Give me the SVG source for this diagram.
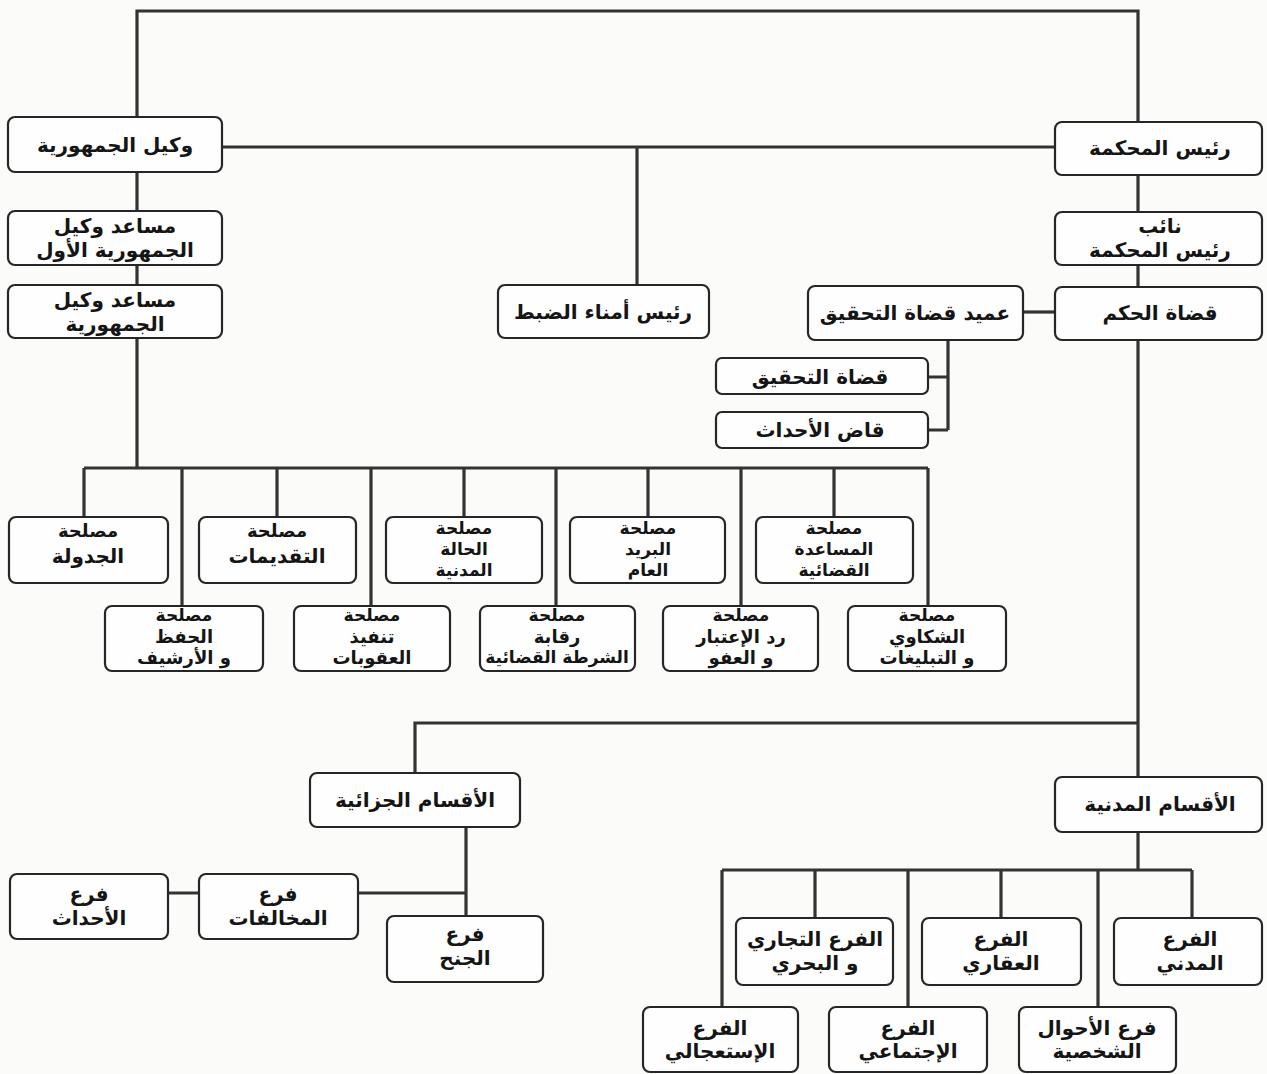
<svg xmlns="http://www.w3.org/2000/svg" width="1267" height="1074" viewBox="0 0 1267 1074">
<style>
.bg{fill:#fbfbfa}
.box{fill:#fefefe;stroke:#262626;stroke-width:2.2}
.c{fill:none;stroke:#333;stroke-width:3.2;stroke-linejoin:miter}
.t{font-family:"DejaVu Sans",sans-serif;font-weight:bold;font-size:20px;fill:#151515;text-anchor:middle;dominant-baseline:central}
.s{font-size:17px}
.m{font-size:18px}
</style>
<rect class="bg" x="0" y="0" width="1267" height="1074"/>
<g id="connectors">
<path class="c" d="M137 117 V11 H1138 V122"/>
<path class="c" d="M137 172 V211 M137 265 V285 M137 338 V468"/>
<path class="c" d="M222 147 H1055 M637 147 V285"/>
<path class="c" d="M1138 175 V212 M1138 265 V287 M1138 340 V777"/>
<path class="c" d="M1023 312 H1055"/>
<path class="c" d="M948 340 V430 M928 377 H948 M928 430 H948"/>
<path class="c" d="M84 468 H928 M84 468 V517 M277 468 V517 M464 468 V517 M648 468 V517 M834 468 V517 M182 468 V606 M371 468 V606 M556 468 V606 M741 468 V606 M928 468 V606"/>
<path class="c" d="M1138 723 H415 V773"/>
<path class="c" d="M466 827 V916 M358 893 H466 M168 893 H199"/>
<path class="c" d="M1138 832 V870 M722 870 H1192 M815 870 V918 M1001 870 V918 M1192 870 V918 M722 870 V1007 M908 870 V1007 M1098 870 V1007"/>
</g>
<g id="n-wakil"><rect class="box" x="8" y="117" width="214" height="55" rx="7"/><text class="t" x="115" y="145">وكيل الجمهورية</text></g>
<g id="n-mosaid1"><rect class="box" x="8" y="211" width="214" height="54" rx="7"/><text class="t" x="115" y="226">مساعد وكيل</text><text class="t" x="115" y="250">الجمهورية الأول</text></g>
<g id="n-mosaid2"><rect class="box" x="8" y="285" width="214" height="53" rx="7"/><text class="t" x="115" y="300">مساعد وكيل</text><text class="t" x="115" y="324">الجمهورية</text></g>
<g id="n-omana"><rect class="box" x="498" y="285" width="211" height="53" rx="7"/><text class="t" x="603" y="312">رئيس أمناء الضبط</text></g>
<g id="n-rais"><rect class="box" x="1055" y="122" width="207" height="53" rx="7"/><text class="t" x="1160" y="148">رئيس المحكمة</text></g>
<g id="n-naib"><rect class="box" x="1055" y="212" width="207" height="53" rx="7"/><text class="t" x="1160" y="226">نائب</text><text class="t" x="1160" y="250">رئيس المحكمة</text></g>
<g id="n-hukm"><rect class="box" x="1055" y="287" width="207" height="53" rx="7"/><text class="t" x="1160" y="313">قضاة الحكم</text></g>
<g id="n-amid"><rect class="box" x="808" y="286" width="215" height="54" rx="7"/><text class="t" x="915" y="313">عميد قضاة التحقيق</text></g>
<g id="n-tahqiq"><rect class="box" x="716" y="358" width="212" height="36" rx="6"/><text class="t" x="820" y="377">قضاة التحقيق</text></g>
<g id="n-ahdath-q"><rect class="box" x="716" y="412" width="212" height="36" rx="6"/><text class="t" x="820" y="430">قاض الأحداث</text></g>
<g id="n-jadwala"><rect class="box" x="9" y="517" width="159" height="66" rx="7"/><text class="t m" x="88" y="530">مصلحة</text><text class="t" x="88" y="556">الجدولة</text></g>
<g id="n-taqdimat"><rect class="box" x="199" y="517" width="157" height="66" rx="7"/><text class="t m" x="277" y="530">مصلحة</text><text class="t" x="277" y="556">التقديمات</text></g>
<g id="n-hala"><rect class="box" x="386" y="517" width="156" height="66" rx="7"/><text class="t s" x="464" y="528">مصلحة</text><text class="t s" x="464" y="549">الحالة</text><text class="t s" x="464" y="570">المدنية</text></g>
<g id="n-barid"><rect class="box" x="570" y="517" width="155" height="66" rx="7"/><text class="t s" x="648" y="528">مصلحة</text><text class="t s" x="648" y="549">البريد</text><text class="t s" x="648" y="570">العام</text></g>
<g id="n-mosaada"><rect class="box" x="756" y="517" width="157" height="66" rx="7"/><text class="t s" x="834" y="528">مصلحة</text><text class="t s" x="834" y="549">المساعدة</text><text class="t s" x="834" y="570">القضائية</text></g>
<g id="n-hifdh"><rect class="box" x="105" y="606" width="158" height="65" rx="7"/><text class="t s" x="184" y="615">مصلحة</text><text class="t m" x="184" y="636">الحفظ</text><text class="t m" x="184" y="657">و الأرشيف</text></g>
<g id="n-tanfidh"><rect class="box" x="294" y="606" width="156" height="65" rx="7"/><text class="t s" x="372" y="615">مصلحة</text><text class="t m" x="372" y="636">تنفيذ</text><text class="t m" x="372" y="657">العقوبات</text></g>
<g id="n-raqaba"><rect class="box" x="480" y="606" width="155" height="65" rx="7"/><text class="t s" x="557" y="615">مصلحة</text><text class="t m" x="557" y="636">رقابة</text><text class="t s" x="557" y="657">الشرطة القضائية</text></g>
<g id="n-radd"><rect class="box" x="663" y="606" width="155" height="65" rx="7"/><text class="t s" x="741" y="615">مصلحة</text><text class="t m" x="741" y="636">رد الإعتبار</text><text class="t m" x="741" y="657">و العفو</text></g>
<g id="n-shakawi"><rect class="box" x="848" y="606" width="158" height="65" rx="7"/><text class="t s" x="927" y="615">مصلحة</text><text class="t m" x="927" y="636">الشكاوي</text><text class="t m" x="927" y="657">و التبليغات</text></g>
<g id="n-jazaiya"><rect class="box" x="310" y="773" width="210" height="54" rx="7"/><text class="t" x="415" y="800">الأقسام الجزائية</text></g>
<g id="n-madaniya"><rect class="box" x="1055" y="777" width="207" height="55" rx="7"/><text class="t" x="1160" y="804">الأقسام المدنية</text></g>
<g id="n-ahdath-f"><rect class="box" x="10" y="874" width="158" height="65" rx="7"/><text class="t" x="89" y="894">فرع</text><text class="t" x="89" y="918">الأحداث</text></g>
<g id="n-mokhalafat"><rect class="box" x="199" y="874" width="159" height="65" rx="7"/><text class="t" x="278" y="894">فرع</text><text class="t" x="278" y="918">المخالفات</text></g>
<g id="n-jonah"><rect class="box" x="387" y="916" width="156" height="66" rx="7"/><text class="t" x="465" y="934">فرع</text><text class="t" x="465" y="958">الجنح</text></g>
<g id="n-tijari"><rect class="box" x="736" y="918" width="157" height="67" rx="7"/><text class="t" x="815" y="939">الفرع التجاري</text><text class="t" x="815" y="963">و البحري</text></g>
<g id="n-aqari"><rect class="box" x="922" y="918" width="159" height="67" rx="7"/><text class="t" x="1001" y="939">الفرع</text><text class="t" x="1001" y="963">العقاري</text></g>
<g id="n-madani"><rect class="box" x="1114" y="918" width="148" height="67" rx="7"/><text class="t" x="1190" y="939">الفرع</text><text class="t" x="1190" y="963">المدني</text></g>
<g id="n-istijali"><rect class="box" x="643" y="1007" width="155" height="65" rx="7"/><text class="t" x="720" y="1028">الفرع</text><text class="t" x="720" y="1051">الإستعجالي</text></g>
<g id="n-ijtimai"><rect class="box" x="829" y="1007" width="158" height="65" rx="7"/><text class="t" x="908" y="1028">الفرع</text><text class="t" x="908" y="1051">الإجتماعي</text></g>
<g id="n-ahwal"><rect class="box" x="1019" y="1007" width="157" height="65" rx="7"/><text class="t" x="1097" y="1028">فرع الأحوال</text><text class="t" x="1097" y="1051">الشخصية</text></g>
</svg>
